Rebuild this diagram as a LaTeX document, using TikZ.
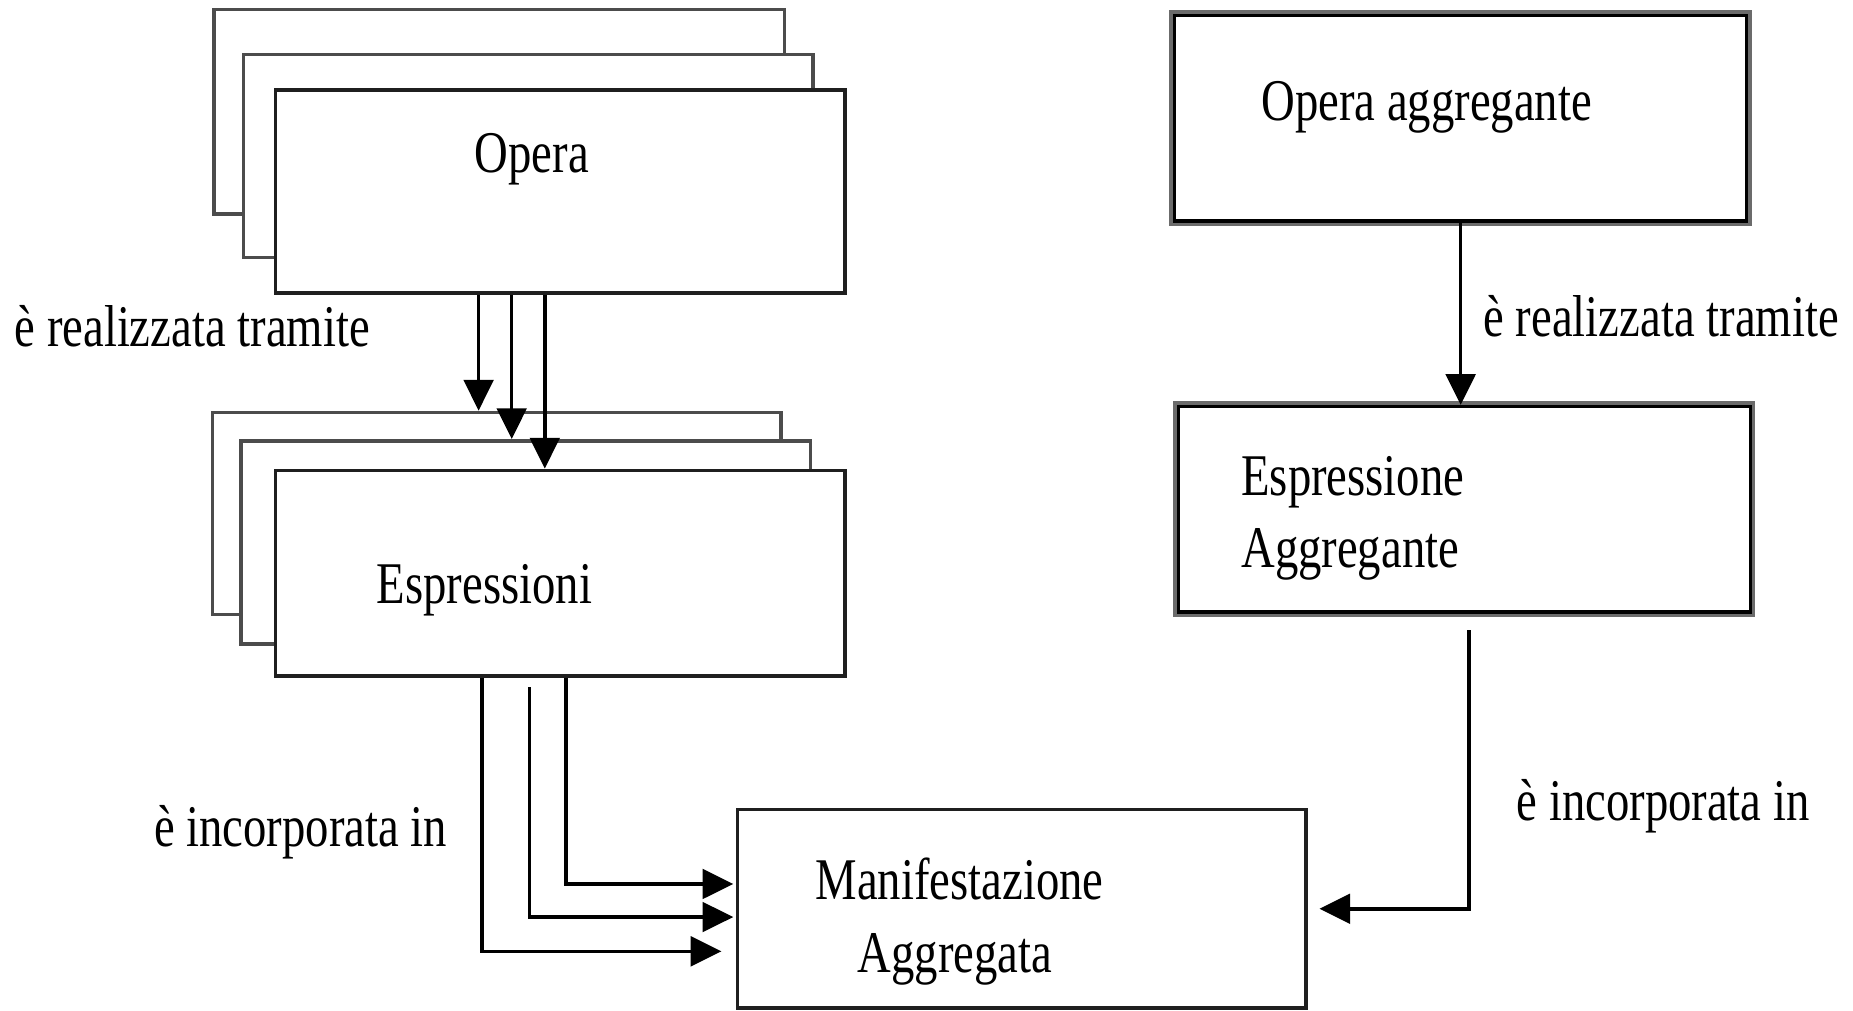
\documentclass[tikz,border=0pt]{standalone}
\usepackage{fontspec}
\setmainfont{Liberation Serif}[FakeStretch=0.79]
\usetikzlibrary{arrows.meta,calc}
\begin{document}
\begin{tikzpicture}[x=0.5pt,y=-0.5pt,
  sz/.style 2 args={minimum width=#1*0.5pt, minimum height=#2*0.5pt},
  box/.style={draw=black!88, line width=1.5pt, fill=white, inner sep=0pt},
  backbox/.style={box, draw=black!70},
  dbox/.style={box, draw=black, line width=1.4pt,
    preaction={draw=black!58, line width=4.4pt}},
  txt/.style={inner sep=0pt, font=\fontsize{25}{30}\selectfont},
  conn/.style={draw=black, line width=1.5pt, -{Triangle[width=12.5pt,length=13pt]}}]
\useasboundingbox (0,0) rectangle (1568,855);
\fill[white] (0,0) rectangle (1568,855);

% stack of works
\node[backbox, sz={483}{173}] (opA) at (422.5,94.5) {};
\node[backbox, sz={482}{172}] (opB) at (447,132) {};
\node[box, sz={482}{172}] (opC) at (474,162) {};
\node[txt, anchor=base] (tOpera) at (450,146) {Opera};

% stack of expressions
\node[backbox, sz={481}{171}] (esA) at (420.5,434.5) {};
\node[backbox, sz={482}{172}] (esB) at (445,459) {};
\node[box, sz={482}{174}] (esC) at (474,485) {};
\node[txt, anchor=base] (tEspr) at (410,511) {Espressioni};

% aggregated manifestation
\node[box, sz={481}{168}] (manif) at (864.5,769) {};
\node[txt, anchor=base] (tManif1) at (812,761) {Manifestazione};
\node[txt, anchor=base] (tManif2) at (808,823) {Aggregata};

% aggregating work and expression
\node[dbox, sz={484}{174}] (opAgg) at (1236,100) {};
\node[txt, anchor=base west] (tOpAgg) at (1067,102) {Opera aggregante};
\node[dbox, sz={484}{174}] (esAgg) at (1239,431) {};
\node[txt, anchor=base west] (tEsAgg1) at (1050,419) {Espressione};
\node[txt, anchor=base west] (tEsAgg2) at (1050,480) {Aggregante};

% relation labels
\node[txt, anchor=base west] (lReal1) at (12,293) {è realizzata tramite};
\node[txt, anchor=base west] (lReal2) at (1255,285) {è realizzata tramite};
\node[txt, anchor=base west] (lInc1) at (130,716) {è incorporata in};
\node[txt, anchor=base west] (lInc2) at (1283,694) {è incorporata in};

% work -> expressions
\draw[conn] ([xshift=-34.5pt]opC.south) -- ([xshift=-34.5pt]opC.south |- esA.north);
\draw[conn] ([xshift=-20.5pt]opC.south) -- ([xshift=-20.5pt]opC.south |- esB.north);
\draw[conn] ([xshift=-6.5pt]opC.south) -- ([xshift=-6.5pt]opC.south |- esC.north);

% expressions -> manifestation
\draw[conn] ([xshift=-33pt]esC.south) |- ([xshift=-6pt,yshift=-18pt]manif.west);
\draw[conn] ([xshift=-13pt,yshift=-4pt]esC.south) |- ([xshift=-1pt,yshift=-3.5pt]manif.west);
\draw[conn] ([xshift=2.5pt]esC.south) |- ([xshift=-1pt,yshift=10.5pt]manif.west);

% aggregating chain
\draw[conn] (opAgg.south) -- (opAgg.south |- esAgg.north);
\draw[conn] ([xshift=2pt,yshift=-7pt]esAgg.south) |- ([xshift=5pt]manif.east);
\end{tikzpicture}
\end{document}
